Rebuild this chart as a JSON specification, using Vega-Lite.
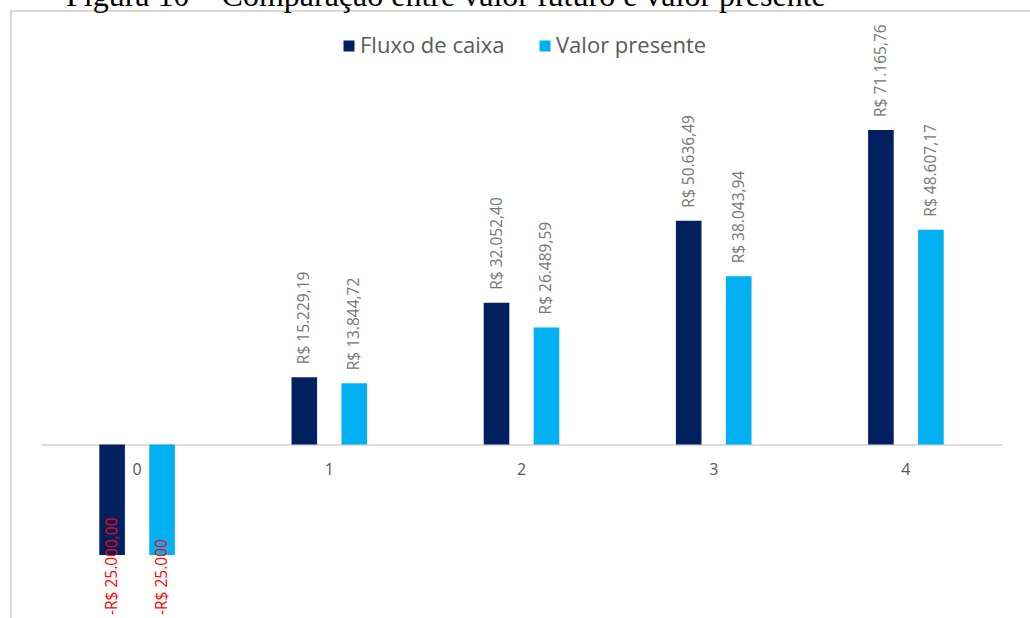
{
  "$schema": "https://vega.github.io/schema/vega-lite/v6.json",
  "autosize": "none",
  "width": 1040,
  "height": 640,
  "padding": {"left": 11, "top": 11, "right": 0, "bottom": 0},
  "background": "white",
  "title": {
    "text": "Figura 10 – Comparação entre valor futuro e valor presente",
    "font": "Liberation Serif",
    "fontSize": 32,
    "fontWeight": "normal",
    "color": "#000000",
    "anchor": "start",
    "frame": "group",
    "orient": "top",
    "baseline": "alphabetic",
    "offset": 0,
    "dx": 55,
    "dy": 27
  },
  "data": {
    "values": [
      {"periodo": "0", "serie": "Fluxo de caixa", "valor": -25000.00, "rotulo": "-R$ 25.000,00"},
      {"periodo": "0", "serie": "Valor presente", "valor": -25000.00, "rotulo": "-R$ 25.000"},
      {"periodo": "1", "serie": "Fluxo de caixa", "valor": 15229.19, "rotulo": "R$ 15.229,19"},
      {"periodo": "1", "serie": "Valor presente", "valor": 13844.72, "rotulo": "R$ 13.844,72"},
      {"periodo": "2", "serie": "Fluxo de caixa", "valor": 32052.40, "rotulo": "R$ 32.052,40"},
      {"periodo": "2", "serie": "Valor presente", "valor": 26489.59, "rotulo": "R$ 26.489,59"},
      {"periodo": "3", "serie": "Fluxo de caixa", "valor": 50636.49, "rotulo": "R$ 50.636,49"},
      {"periodo": "3", "serie": "Valor presente", "valor": 38043.94, "rotulo": "R$ 38.043,94"},
      {"periodo": "4", "serie": "Fluxo de caixa", "valor": 71165.76, "rotulo": "R$ 71.165,76"},
      {"periodo": "4", "serie": "Valor presente", "valor": 48607.17, "rotulo": "R$ 48.607,17"}
    ]
  },
  "encoding": {
    "x": {
      "field": "periodo",
      "type": "nominal",
      "sort": ["0", "1", "2", "3", "4"],
      "scale": {"range": [30, 991], "paddingInner": 0.6067, "paddingOuter": 0.3033},
      "axis": {
        "title": null,
        "orient": "bottom",
        "offset": -206.5,
        "domainColor": "#d0d0d0",
        "domainWidth": 1.5,
        "ticks": false,
        "grid": false,
        "labelFont": "Open Sans",
        "labelFontSize": 16,
        "labelColor": "#595959",
        "labelAngle": 0,
        "labelPadding": 17,
        "labelBaseline": "top"
      }
    },
    "xOffset": {
      "field": "serie",
      "type": "nominal",
      "scale": {"domain": ["Fluxo de caixa", "Valor presente"], "paddingInner": 0.488, "paddingOuter": 0}
    },
    "y": {
      "field": "valor",
      "type": "quantitative",
      "scale": {"domain": [-40000, 80000], "range": [610.3, 79.9], "nice": false, "zero": false},
      "axis": null
    }
  },
  "layer": [
    {
      "mark": {"type": "bar", "clip": false},
      "encoding": {
        "color": {
          "field": "serie",
          "type": "nominal",
          "scale": {"domain": ["Fluxo de caixa", "Valor presente"], "range": ["#002060", "#00b0f0"]},
          "legend": {
            "title": null,
            "orient": "none",
            "legendX": 327,
            "legendY": 24,
            "direction": "horizontal",
            "symbolType": "square",
            "symbolSize": 121,
            "symbolStrokeWidth": 0,
            "symbolOpacity": 1,
            "labelFont": "Open Sans",
            "labelFontSize": 22,
            "labelColor": "#595959",
            "labelOffset": 0,
            "columnPadding": 29,
            "padding": 0
          }
        }
      }
    },
    {
      "transform": [{"filter": "datum.valor >= 0"}],
      "mark": {"type": "text", "angle": 270, "align": "left", "baseline": "middle", "dx": 13, "font": "Open Sans", "fontSize": 15.5, "color": "#767676", "clip": false},
      "encoding": {"text": {"field": "rotulo", "type": "nominal"}}
    },
    {
      "transform": [{"filter": "datum.valor < 0"}],
      "mark": {"type": "text", "angle": 270, "align": "left", "baseline": "middle", "dx": -60, "font": "Open Sans", "fontSize": 15.5, "color": "#ff0000", "clip": false},
      "encoding": {"text": {"field": "rotulo", "type": "nominal"}}
    }
  ],
  "config": {"view": {"stroke": "#d9d9d9", "strokeWidth": 2}}
}
